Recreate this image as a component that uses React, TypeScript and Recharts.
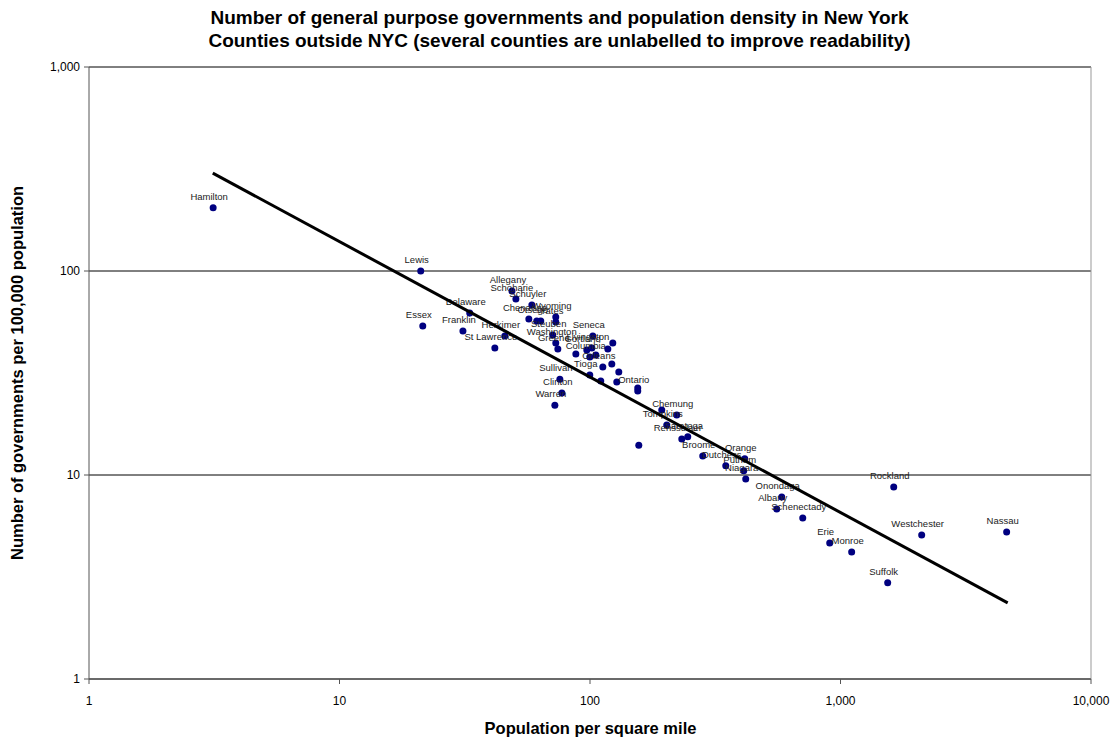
import React from "react";
import {
  ScatterChart,
  Scatter,
  XAxis,
  YAxis,
  CartesianGrid,
  ReferenceLine,
} from "recharts";

// counties outside NYC, "" = unlabelled on the chart
const countyNames = [
  "Hamilton", "Lewis", "Essex", "Delaware", "Franklin", "Herkimer", "St Lawrence",
  "Allegany", "Schoharie", "Schuyler", "Wyoming", "Chenango", "Otsego", "", "Yates",
  "Steuben", "Seneca", "Washington", "Livingston", "Greene", "Cortland", "Columbia",
  "", "", "", "", "Orleans", "", "", "Tioga", "", "", "", "Ontario",
  "Sullivan", "Clinton", "Warren", "", "Chemung", "Tompkins", "Saratoga", "Rensselaer", "",
  "Broome", "Orange", "Dutchess", "Putnam", "Niagara", "Onondaga", "Albany", "Schenectady",
  "Erie", "Monroe", "Suffolk", "Rockland", "Westchester", "Nassau",
];

// population per square mile
const density = [
  3.13, 21.1, 21.5, 33.1, 31.1, 45.7, 41.7,
  48.8, 50.6, 58.6, 73.0, 57.0, 61.3, 63.6, 73.0,
  71.0, 102.6, 73.0, 101.7, 74.4, 97.1, 99.8,
  87.8, 105.5, 117.8, 123.3, 112.5, 122.2, 130.3, 99.8, 110.4, 127.9, 155.1, 155.1,
  75.8, 77.2, 72.4, 193.4, 222.0, 202.5, 245.6, 232.5, 156.6,
  281.9, 414.7, 348.3, 410.9, 418.5, 582.6, 556.5, 706.8,
  905.6, 1108, 1543, 1631, 2109, 4605,
];

// general purpose governments per 100,000 population
const govsPer100k = [
  204, 100, 53.8, 62.3, 50.8, 48.0, 41.9,
  79.8, 72.9, 68.1, 59.5, 58.2, 56.9, 56.9, 56.2,
  48.6, 48.0, 44.4, 41.9, 41.5, 41.0, 37.9,
  39.2, 38.7, 41.5, 44.4, 33.8, 35.0, 32.0, 30.9, 28.9, 28.6, 26.7, 25.8,
  29.5, 25.2, 22.0, 20.8, 19.7, 17.6, 15.4, 15.0, 14.0,
  12.4, 12.0, 11.1, 10.5, 9.56, 7.8, 6.81, 6.15,
  4.64, 4.19, 2.96, 8.73, 5.08, 5.25,
];

// power trendline end points
const trendX = [3.12, 4650];
const trendY = [302, 2.36];

const xTicks = [1, 10, 100, 1000, 10000];
const yTicks = [1, 10, 100, 1000];

const points = countyNames.map((name, i) => ({ name, x: density[i], y: govsPer100k[i] }));
const trend = trendX.map((x, i) => ({ x, y: trendY[i] }));

const FONT = "'Liberation Sans', Arial, sans-serif";
const fmt = (v: number) => v.toLocaleString("en-US");

const renderCounty = (props: any) => {
  const { cx, cy, payload } = props;
  return (
    <g>
      <circle cx={cx} cy={cy} r={3.5} fill="#000080" />
      {payload.name ? (
        <text x={cx - 4} y={cy - 8} textAnchor="middle" fontSize={9.5} fill="#222" fontFamily={FONT}>
          {payload.name}
        </text>
      ) : null}
    </g>
  );
};

const noShape = () => <g />;

export default function App() {
  return (
    <div style={{ position: "absolute", left: 0, top: 0, width: 1119, height: 740, background: "#fff", fontFamily: FONT }}>
      <div style={{ position: "absolute", left: 0, top: 6, width: 1119, textAlign: "center", fontSize: 19, fontWeight: "bold", lineHeight: "23px", color: "#000" }}>
        Number of general purpose governments and population density in New York
        <br />
        Counties outside NYC (several counties are unlabelled to improve readability)
      </div>
      <ScatterChart width={1119} height={740} margin={{ top: 67, right: 28, left: 0, bottom: 0 }}>
        <CartesianGrid vertical={false} stroke="#000" strokeWidth={1} />
        <XAxis
          dataKey="x"
          type="number"
          scale="log"
          domain={[1, 10000]}
          ticks={xTicks}
          allowDataOverflow
          tickFormatter={fmt}
          height={61}
          tickSize={5}
          tickMargin={12}
          stroke="#555"
          tick={{ fill: "#000", fontSize: 12, fontFamily: FONT }}
        />
        <YAxis
          dataKey="y"
          type="number"
          scale="log"
          domain={[1, 1000]}
          ticks={yTicks}
          allowDataOverflow
          tickFormatter={fmt}
          width={89}
          tickSize={5}
          tickMargin={4}
          stroke="#555"
          tick={{ fill: "#000", fontSize: 12, fontFamily: FONT }}
        />
        <ReferenceLine x={10000} stroke="#999" />
        <Scatter data={points} shape={renderCounty} isAnimationActive={false} />
        <Scatter
          data={trend}
          line={{ stroke: "#000", strokeWidth: 3 }}
          shape={noShape}
          isAnimationActive={false}
        />
      </ScatterChart>
      <div style={{ position: "absolute", left: 89, width: 1003, top: 719, textAlign: "center", fontSize: 16.5, fontWeight: "bold" }}>
        Population per square mile
      </div>
      <div
        style={{
          position: "absolute",
          left: 17,
          top: 373,
          transform: "translate(-50%, -50%) rotate(-90deg)",
          whiteSpace: "nowrap",
          fontSize: 16.5,
          fontWeight: "bold",
        }}
      >
        Number of governments per 100,000 population
      </div>
    </div>
  );
}
